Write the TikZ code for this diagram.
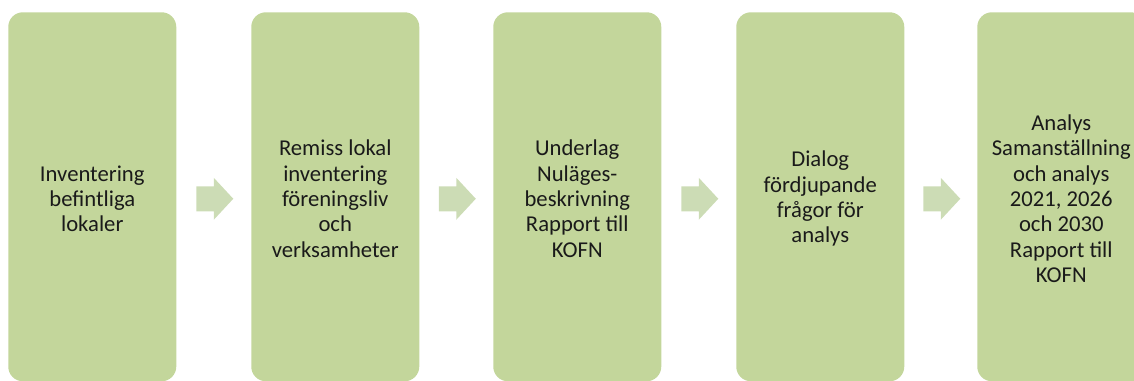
\documentclass[tikz,border=0pt]{standalone}
\usepackage{fontspec}
\setmainfont{Carlito}
\usetikzlibrary{calc}
\definecolor{boxgreen}{HTML}{C3D69B}
\definecolor{arrowgreen}{HTML}{CCDCB5}
\definecolor{txt}{HTML}{1A1A1A}
\tikzset{
  stagebox/.style={fill=boxgreen, draw=none, rounded corners=11pt, minimum width=126pt, minimum height=276.75pt, anchor=north west, inner sep=0pt},
  stagetext/.style={align=center, text=txt, font=\fontsize{17pt}{19pt}\selectfont},
  flowarrow/.style={fill=arrowgreen, draw=none}
}
\begin{document}
\begin{tikzpicture}[x=0.75pt, y=-0.75pt]
\useasboundingbox (0,0) rectangle (1134,381);
\clip (0,0) rectangle (1134,381);
\node[stagebox] (b1) at (8,12) {};
\node[stagebox] (b2) at (251,12) {};
\node[stagebox] (b3) at (493,12) {};
\node[stagebox] (b4) at (736,12) {};
\node[stagebox] (b5) at (977,12) {};
\node[stagetext] (t1) at ($(b1.center)+(0,2)$) {Inventering\\befintliga\\lokaler};
\node[stagetext] (t2) at ($(b2.center)+(0,2)$) {Remiss lokal\\inventering\\föreningsliv\\och\\verksamheter};
\node[stagetext] (t3) at ($(b3.center)+(0,2)$) {Underlag\\Nuläges-\\beskrivning\\Rapport till\\KOFN};
\node[stagetext] (t4) at ($(b4.center)+(0,2)$) {Dialog\\fördjupande\\frågor för\\analys};
\node[stagetext] (t5) at ($(b5.center)+(0,2)$) {Analys\\Samanställning\\och analys\\2021, 2026\\och 2030\\Rapport till\\KOFN};
\foreach \a/\b in {b1/b2, b2/b3, b3/b4, b4/b5}{
  \coordinate (m) at ($(\a.east)!0.5!(\b.west)+(1,2)$);
  \fill[flowarrow] ($(m)+(-18.5,-12.5)$) -- ($(m)+(-1,-12.5)$) -- ($(m)+(-1,-21)$)
    -- ($(m)+(18.5,0)$) -- ($(m)+(-1,21)$) -- ($(m)+(-1,12.5)$) -- ($(m)+(-18.5,12.5)$) -- cycle;
}
\end{tikzpicture}
\end{document}
